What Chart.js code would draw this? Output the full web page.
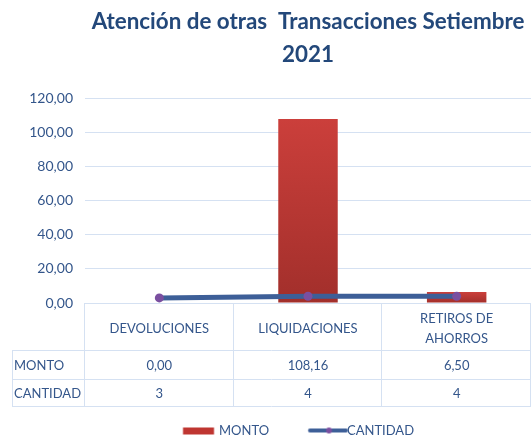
<!DOCTYPE html>
<html><head><meta charset="utf-8">
<script src="https://cdn.jsdelivr.net/npm/chart.js@4"></script>
<style>html,body{margin:0;padding:0;background:#fff}</style>
</head><body><canvas id="c" width="531" height="438"></canvas>
<script>
const titleLines = ['Atención de otras  Transacciones Setiembre', '2021'];
const categories = ['DEVOLUCIONES', 'LIQUIDACIONES', ['RETIROS DE', 'AHORROS']];
const seriesNames = ['MONTO', 'CANTIDAD'];
const montoValues = [0, 108.16, 6.50];
const cantidadValues = [3, 4, 4];
const yMin = 0, yMax = 120, yStep = 20;

const FONT = 'Lato';
const TEXT = '#34568B';
const GRID = '#D5E1F2';
const RED_TOP = '#CB3F3B', RED_BOT = '#A22F2B';
const LINE = '#3D5F98', DOT = '#7A4FA0';
const fmt2 = v => v.toFixed(2).replace('.', ',');

// legend geometry
const LEG_FS = 13, LEG_PAD = 2;
const R = -1;
const mctx = document.createElement('canvas').getContext('2d');
mctx.font = LEG_FS + 'px ' + FONT;
const tw1 = mctx.measureText(seriesNames[0]).width;
const tw2 = mctx.measureText(seriesNames[1]).width;
const W = 128 - LEG_FS / 2 - tw1 - LEG_PAD;
const textStart1 = 219;
const x01 = textStart1 - W - LEG_FS / 2;
const lineWidth = 2 * W + LEG_FS + tw1 + tw2 + 2 * LEG_PAD;
const L = 2 * x01 - LEG_PAD - (531 - R) + lineWidth;
const PLOT_LEFT = 85;

function legendImg(a, b, draw) {
  const c = -LEG_FS / 2 - W / 2;
  const half = Math.max(Math.abs(a - c), Math.abs(b - c)) + 1;
  const cv = document.createElement('canvas');
  cv.width = Math.ceil(half * 2); cv.height = 14;
  const g = cv.getContext('2d');
  const off = cv.width / 2 - c;
  draw(g, off);
  return cv;
}
const rectImg = legendImg(-36, -5, (g, o) => { g.fillStyle = '#BF3631'; g.fillRect(o - 36, 4, 31, 7); });
const lineImg = legendImg(-38, 0, (g, o) => {
  g.strokeStyle = LINE; g.lineWidth = 4; g.lineCap = 'round';
  g.beginPath(); g.moveTo(o - 37, 7); g.lineTo(o - 1, 7); g.stroke();
  g.fillStyle = DOT; g.beginPath(); g.arc(o - 18, 7, 3, 0, Math.PI * 2); g.fill();
});

function barGradient(ctx) {
  const chart = ctx.chart;
  if (!chart.chartArea || ctx.type !== 'data') return RED_TOP;
  const y = chart.scales.y;
  const top = y.getPixelForValue(ctx.raw), base = y.getPixelForValue(0);
  if (!(base - top > 1)) return RED_TOP;
  const gr = chart.ctx.createLinearGradient(0, top, 0, base);
  gr.addColorStop(0, RED_TOP); gr.addColorStop(1, RED_BOT);
  return gr;
}

const tablePlugin = {
  id: 'dataTable',
  afterDraw(chart) {
    const { ctx, chartArea: ca } = chart;
    const n = montoValues.length;
    const cw = (ca.right - ca.left) / n;
    const y0 = ca.bottom, yh = y0 + 47, y1 = y0 + 76, y2 = y0 + 103;
    const xl = 12;
    ctx.save();
    ctx.strokeStyle = GRID; ctx.lineWidth = 1;
    ctx.beginPath();
    [yh, y1, y2].forEach(yy => { ctx.moveTo(xl, Math.round(yy) + 0.5); ctx.lineTo(ca.right, Math.round(yy) + 0.5); });
    ctx.moveTo(xl + 0.5, yh); ctx.lineTo(xl + 0.5, y2 + 1);
    for (let i = 0; i <= n; i++) {
      const xx = Math.round(ca.left + i * cw) - 0.5;
      ctx.moveTo(xx, y0); ctx.lineTo(xx, y2 + 1);
    }
    ctx.stroke();
    ctx.fillStyle = TEXT;
    ctx.font = '13px ' + FONT;
    ctx.textBaseline = 'middle';
    const r1 = (yh + y1) / 2 + 1, r2 = (y1 + y2) / 2 + 1;
    ctx.textAlign = 'left';
    ctx.fillText(seriesNames[0], 14, r1);
    ctx.fillText(seriesNames[1], 14, r2);
    ctx.textAlign = 'center';
    for (let i = 0; i < n; i++) {
      const cx = ca.left + (i + 0.5) * cw;
      ctx.fillText(fmt2(montoValues[i]), cx, r1);
      ctx.fillText(String(cantidadValues[i]), cx, r2);
    }
    ctx.restore();
  }
};

new Chart(document.getElementById('c'), {
  type: 'bar',
  data: {
    labels: categories,
    datasets: [
      {
        type: 'line', label: seriesNames[1], data: cantidadValues, order: 0,
        borderColor: LINE, borderWidth: 5, backgroundColor: DOT,
        pointBackgroundColor: DOT, pointBorderColor: DOT, pointRadius: 4.5, pointBorderWidth: 0,
        pointStyle: 'circle', tension: 0
      },
      {
        type: 'bar', label: seriesNames[0], data: montoValues, order: 1,
        backgroundColor: barGradient, borderWidth: 0,
        categoryPercentage: 1, barPercentage: 0.4
      }
    ]
  },
  options: {
    responsive: false, animation: false, devicePixelRatio: 1,
    layout: { autoPadding: false, padding: { left: L, right: R, top: 0, bottom: -9 } },
    plugins: {
      title: {
        display: true, fullSize: false, text: titleLines, color: '#23487A',
        font: { family: FONT, size: 22.4, weight: 'bold', lineHeight: 1.47 },
        padding: { top: 5, bottom: 28 }
      },
      legend: {
        display: true, position: 'bottom', align: 'center', fullSize: true,
        labels: {
          usePointStyle: true, pointStyleWidth: W, padding: LEG_PAD, color: TEXT,
          font: { family: FONT, size: LEG_FS },
          generateLabels: (chart) => [
            { text: seriesNames[0], pointStyle: rectImg, fontColor: TEXT, datasetIndex: 1, lineWidth: 0, strokeStyle: 'transparent', fillStyle: 'transparent' },
            { text: seriesNames[1], pointStyle: lineImg, fontColor: TEXT, datasetIndex: 0, lineWidth: 0, strokeStyle: 'transparent', fillStyle: 'transparent' }
          ]
        }
      },
      tooltip: { enabled: false }
    },
    scales: {
      x: {
        grid: { display: false, drawTicks: false },
        border: { display: false },
        ticks: {
          color: TEXT, font: { family: FONT, size: 13, lineHeight: 1.5 },
          crossAlign: 'center', padding: 16, maxRotation: 0, autoSkip: false
        },
        afterFit(s) { s.height = 119; }
      },
      y: {
        min: yMin, max: yMax,
        grid: { color: GRID, drawTicks: false, lineWidth: 1 },
        border: { display: false },
        ticks: {
          stepSize: yStep, color: TEXT, padding: 12,
          font: { family: FONT, size: 14 },
          callback: v => fmt2(v)
        },
        afterFit(s) { s.width = PLOT_LEFT - L; }
      }
    }
  },
  plugins: [tablePlugin]
});
</script>
</body></html>
